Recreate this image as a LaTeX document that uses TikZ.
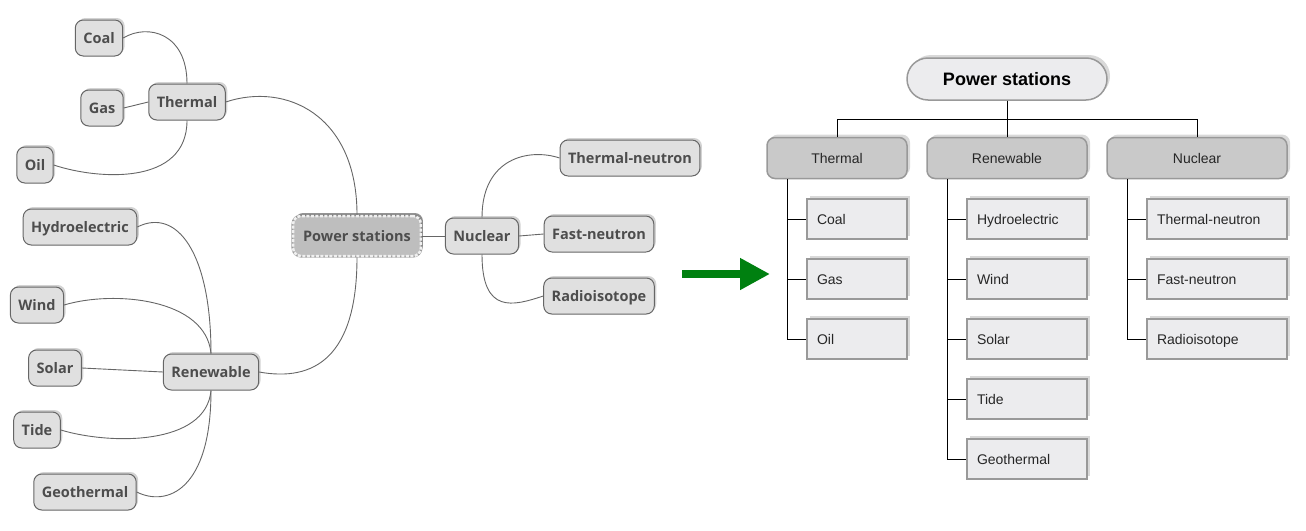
\documentclass[tikz,border=0pt]{standalone}
\usepackage{fontspec}
\setmainfont{Liberation Sans}
\newfontfamily\mapfont{Open Sans}
\usetikzlibrary{positioning, shapes, arrows.meta, calc, shadows}
\definecolor{mapfill}{RGB}{224,224,224}
\definecolor{mapline}{RGB}{102,102,102}
\definecolor{maptext}{RGB}{77,77,77}
\definecolor{rootfill}{RGB}{190,190,190}
\definecolor{treeline}{RGB}{153,153,153}
\definecolor{catfill}{RGB}{201,201,201}
\definecolor{leaffill}{RGB}{236,236,238}
\definecolor{mygreen}{RGB}{0,128,16}
\tikzset{
  topic/.style={draw=mapline, line width=1, fill=mapfill, rounded corners=8,
    inner xsep=8, inner ysep=0, minimum height=36, text=maptext,
    text height=12.5, text depth=2,
    font=\mapfont\bfseries\fontsize{14.5}{16}\selectfont,
    drop shadow={shadow xshift=2, shadow yshift=-2, opacity=0.35}},
  central/.style={topic, fill=rootfill, draw=white!88!gray, line width=2.5,
    dash pattern=on 3 off 1.5, inner xsep=10, minimum height=40,
    preaction={draw=gray!75, line width=3.2, solid},
    drop shadow={shadow xshift=2, shadow yshift=-3, opacity=0.85}},
  link/.style={draw=mapline, line width=0.9},
  root/.style={draw=treeline, line width=1.5, fill=leaffill, rounded corners=21,
    minimum width=200, minimum height=42,
    font=\bfseries\fontsize{18}{20}\selectfont,
    drop shadow={shadow xshift=3, shadow yshift=-3, opacity=0.3}},
  category/.style={draw=treeline, line width=1.5, fill=catfill, rounded corners=8,
    minimum width=#1, minimum height=41, font=\fontsize{14}{16}\selectfont,
    text=black!85, drop shadow={shadow xshift=3, shadow yshift=-3, opacity=0.3}},
  leaf/.style={draw=treeline, line width=1.8, fill=leaffill, text width=#1,
    align=left, inner xsep=10, inner ysep=0, minimum height=40,
    text height=12, text depth=2,
    font=\fontsize{14}{16}\selectfont, text=black!85,
    drop shadow={shadow xshift=3, shadow yshift=-3, opacity=0.3}},
  tree/.style={draw=black, line width=1}
}
\begin{document}
\begin{tikzpicture}[x=1pt, y=-1pt]
\useasboundingbox (0,0) rectangle (1306,530);

% mind map
\node [central] (power) at (357,236) {Power stations};
\node [topic] (thermal) at (187,102) {Thermal};
\node [topic] (coal) at (99,38) {Coal};
\node [topic] (gas) at (102,108) {Gas};
\node [topic] (oil) at (35,165) {Oil};
\node [topic] (renewable) at (211,372) {Renewable};
\node [topic] (hydro) at (80,227) {Hydroelectric};
\node [topic] (wind) at (37,305) {Wind};
\node [topic] (solar) at (55,368) {Solar};
\node [topic] (tide) at (37,430) {Tide};
\node [topic] (geo) at (85,492) {Geothermal};
\node [topic] (nuclear) at (482,236) {Nuclear};
\node [topic] (tneutron) at (630,158) {Thermal-neutron};
\node [topic] (fneutron) at (599,234) {Fast-neutron};
\node [topic] (radio) at (599,296) {Radioisotope};

\draw[link] (power.north) .. controls +(0,-100) and +(60,-20) .. (thermal.east);
\draw[link] (power.south) .. controls +(0,100) and +(55,10) .. (renewable.east);
\draw[link] (power.east) -- (nuclear.west);

\draw[link] (thermal.north) .. controls +(0,-50) and +(25,-15) .. (coal.east);
\draw[link] (thermal.west) -- (gas.east);
\draw[link] (thermal.south) .. controls +(0,65) and +(45,15) .. (oil.east);

\draw[link] (renewable.north) .. controls +(0,-100) and +(40,-20) .. (hydro.east);
\draw[link] (renewable.north) .. controls +(-5,-55) and +(50,-15) .. (wind.east);
\draw[link] (renewable.west) -- (solar.east);
\draw[link] (renewable.south) .. controls +(-5,55) and +(50,15) .. (tide.east);
\draw[link] (renewable.south) .. controls +(0,100) and +(30,15) .. (geo.east);

\draw[link] (nuclear.north) .. controls +(0,-60) and +(-30,-10) .. (tneutron.west);
\draw[link] (nuclear.east) -- (fneutron.west);
\draw[link] (nuclear.south) .. controls +(0,60) and +(-30,10) .. (radio.west);

% arrow
\coordinate (arrowtail) at (682,274);
\coordinate (arrowtip) at (770,274);
\draw[-{Triangle[length=30,width=30]}, line width=8, color=mygreen] (arrowtail) -- (arrowtip);

% tree
\node [root] (troot) at (1007,79) {Power stations};
\node [category=140] (tthermal) at (837,158) {Thermal};
\node [category=160] (trenew) at (1007,158) {Renewable};
\node [category=180] (tnuclear) at (1197,158) {Nuclear};

\node [leaf=80] (tcoal) at (857,219) {Coal};
\node [leaf=80] (tgas) at (857,279) {Gas};
\node [leaf=80] (toil) at (857,339) {Oil};

\node [leaf=100] (thydro) at (1027,219) {Hydroelectric};
\node [leaf=100] (twind) at (1027,279) {Wind};
\node [leaf=100] (tsolar) at (1027,339) {Solar};
\node [leaf=100] (ttide) at (1027,399) {Tide};
\node [leaf=100] (tgeo) at (1027,459) {Geothermal};

\node [leaf=120] (ttn) at (1217,219) {Thermal-neutron};
\node [leaf=120] (tfn) at (1217,279) {Fast-neutron};
\node [leaf=120] (tri) at (1217,339) {Radioisotope};

\draw[tree] (troot.south) -- (trenew.north);
\draw[tree] (troot.south) -- ++(0,19) -| (tthermal.north);
\draw[tree] (troot.south) -- ++(0,19) -| (tnuclear.north);

\draw[tree] ($(tthermal.south west)+(21,0)$) |- (tcoal.west);
\draw[tree] ($(tthermal.south west)+(21,0)$) |- (tgas.west);
\draw[tree] ($(tthermal.south west)+(21,0)$) |- (toil.west);

\draw[tree] ($(trenew.south west)+(21,0)$) |- (thydro.west);
\draw[tree] ($(trenew.south west)+(21,0)$) |- (twind.west);
\draw[tree] ($(trenew.south west)+(21,0)$) |- (tsolar.west);
\draw[tree] ($(trenew.south west)+(21,0)$) |- (ttide.west);
\draw[tree] ($(trenew.south west)+(21,0)$) |- (tgeo.west);

\draw[tree] ($(tnuclear.south west)+(21,0)$) |- (ttn.west);
\draw[tree] ($(tnuclear.south west)+(21,0)$) |- (tfn.west);
\draw[tree] ($(tnuclear.south west)+(21,0)$) |- (tri.west);

\end{tikzpicture}
\end{document}
